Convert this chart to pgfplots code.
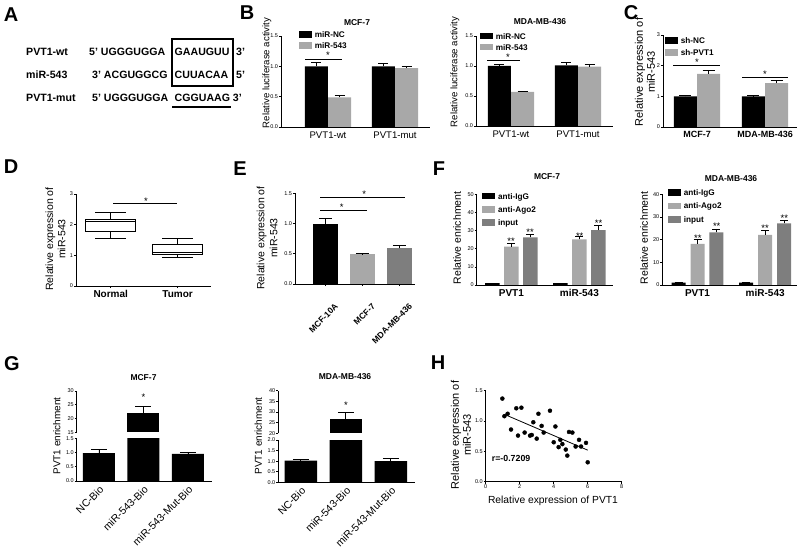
\documentclass[border=0pt]{standalone}
\usepackage{fontspec}
\setmainfont{Liberation Sans}
\usepackage{pgfplots}
\pgfplotsset{compat=1.18}
\usepgfplotslibrary{statistics}
\definecolor{lg}{HTML}{A8A8A8}
\definecolor{dg}{HTML}{7E7E7E}
\newcommand\fs[1]{\fontsize{#1}{#1}\selectfont}
\pgfplotsset{
 gp/.style={scale only axis, clip=false, anchor=south west,
   axis x line*=bottom, axis y line*=left,
   axis line style={line width=0.9pt,-},
   every outer x axis line/.append style={-},
   every outer y axis line/.append style={-},
   tick style={line width=0.7pt, black},
   tick align=outside, major tick length=2.2pt,
   yticklabel style={font=\fs{5.5}, inner sep=0.6pt},
   /pgf/number format/assume math mode=true,
   legend cell align=left},
 dec/.style={yticklabel style={/pgf/number format/fixed,/pgf/number format/fixed zerofill,/pgf/number format/precision=1}},
 bb/.style 2 args={ybar, bar shift=0pt, bar width=#1, fill=#2, draw=none,
   legend image code/.code={\fill[##1] (0pt,-3.3pt) rectangle (12.5pt,3.3pt);}},
 eb/.style={error bars/y dir=plus, error bars/y explicit,
   error bars/error bar style={line width=0.8pt, black},
   error bars/error mark options={rotate=90, mark size=#1, line width=0.8pt, black}},
 lgs/.style 2 args={legend style={at={#1}, anchor=north west, draw=none, fill=none,
   inner sep=0pt, font=\fs{8.2}\bfseries, row sep=#2, column sep=2.5pt,
   nodes={inner sep=0.6pt, text height=5.8pt, text depth=0pt}}},
}
\tikzset{star/.style={font=\fs{9.5}, inner sep=0pt, yshift=-2pt},
 ttl/.style={font=\fs{8.5}\bfseries},
 pl/.style={font=\fs{20}\bfseries, inner sep=0pt}}
\begin{document}
\begin{tikzpicture}[x=1pt,y=1pt]
\useasboundingbox (0,0) rectangle (800,549);

% ---------- A ----------
\node[pl] at (11,549-15) {A};
\begin{scope}[every node/.style={font=\fs{10.6}\bfseries, anchor=west, inner sep=0pt}]
\node at (26,549-52) {PVT1-wt};
\node at (26,549-75) {miR-543};
\node at (26,549-98) {PVT1-mut};
\node at (89,549-52) {5' UGGGUGGA};
\node at (92,549-75) {3' ACGUGGCG};
\node at (92,549-98) {5' UGGGUGGA};
\node at (174.5,549-52) {GAAUGUU};
\node at (174.5,549-75) {CUUACAA};
\node at (236,549-52) {3'};
\node at (236,549-75) {5'};
\node at (174.5,549-98) {CGGUAAG 3'};
\end{scope}
\draw[line width=1.3pt] (172,549-39) rectangle (233,549-86);
\draw[line width=1.3pt] (172,549-107) -- (231,549-107);

% ---------- B ----------
\node[pl] at (247,549-13) {B};
\begin{axis}[gp, at={(281pt,422pt)}, width=149pt, height=91pt,
  xmin=-0.701, xmax=1.522, ymin=0, ymax=1.5, ytick={0,0.5,1,1.5}, dec,
  xtick={0,1}, xticklabels={PVT1-wt,PVT1-mut}, xtick style={draw=none},
  xticklabel style={font=\fs{9.6}, inner sep=2pt},
  lgs={(0.121,1.06)}{4pt}]
\addplot[bb={0.343}{black}, eb=5pt] coordinates {(-0.172,1.0) +- (0,0.07) (0.828,1.0) +- (0,0.05)};
\addlegendentry{miR-NC}
\addplot[bb={0.343}{lg}, eb=5pt] coordinates {(0.172,0.49) +- (0,0.03) (1.172,0.97) +- (0,0.03)};
\addlegendentry{miR-543}
\end{axis}
\node[ttl] at (357,549-22.5) {MCF-7};
\node[rotate=90, font=\fs{9.6}] at (267,549-73) {Relative luciferase activity};
\draw[line width=0.9pt] (305,549-59.3) -- (341.7,549-59.3);
\node[star] at (328,549-53) {*};

\begin{axis}[gp, at={(476pt,423pt)}, width=137pt, height=90pt,
  xmin=-0.522, xmax=1.522, ymin=0, ymax=1.5, ytick={0,0.5,1,1.5}, dec,
  xtick={0,1}, xticklabels={PVT1-wt,PVT1-mut}, xtick style={draw=none},
  xticklabel style={font=\fs{9.6}, inner sep=2pt},
  lgs={(0.029,1.039)}{4pt}]
\addplot[bb={0.343}{black}, eb=5pt] coordinates {(-0.172,1.0) +- (0,0.03) (0.828,1.01) +- (0,0.05)};
\addlegendentry{miR-NC}
\addplot[bb={0.343}{lg}, eb=5pt] coordinates {(0.172,0.57) +- (0,0.01) (1.172,0.99) +- (0,0.04)};
\addlegendentry{miR-543}
\end{axis}
\node[ttl] at (540,549-21.7) {MDA-MB-436};
\node[rotate=90, font=\fs{9.6}] at (455,549-72) {Relative luciferase activity};
\draw[line width=0.9pt] (487.3,549-60) -- (520,549-60);
\node[star] at (508,549-55) {*};

% ---------- C ----------
\node[pl] at (631,549-13) {C};
\begin{axis}[gp, at={(663pt,422pt)}, width=134pt, height=92pt,
  xmin=-0.5, xmax=1.47, ymin=0, ymax=3, ytick={0,1,2,3},
  xtick={0,1}, xticklabels={MCF-7,MDA-MB-436}, xtick style={draw=none},
  xticklabel style={font=\fs{9}\bfseries, inner sep=2pt},
  lgs={(0.015,0.978)}{4.7pt}]
\addplot[bb={0.34}{black}, eb=6pt] coordinates {(-0.17,1.0) +- (0,0.03) (0.83,1.0) +- (0,0.02)};
\addlegendentry{sh-NC}
\addplot[bb={0.34}{lg}, eb=6pt] coordinates {(0.17,1.73) +- (0,0.1) (1.17,1.43) +- (0,0.08)};
\addlegendentry{sh-PVT1}
\end{axis}
\node[rotate=90, font=\fontsize{11}{12}\selectfont, align=center] at (645,549-72) {Relative expression of\\miR-543};
\draw[line width=0.9pt] (673,549-65) -- (720,549-65);
\draw[line width=0.9pt] (742,549-77) -- (788,549-77);
\node[star] at (697,549-60) {*};
\node[star] at (765,549-72) {*};

% ---------- D ----------
\node[pl] at (11,549-167) {D};
\begin{axis}[gp, at={(76pt,263pt)}, width=135pt, height=92pt,
  xmin=-0.52, xmax=1.5, ymin=0, ymax=3, ytick={0,1,2,3},
  boxplot/draw direction=y,
  xtick={0,1}, xticklabels={Normal,Tumor},
  xticklabel style={font=\fs{10}\bfseries, inner sep=2pt}]
\addplot[black, line width=1.1pt, boxplot prepared={draw position=0, lower whisker=1.55, lower quartile=1.79, median=2.1, upper quartile=2.18, upper whisker=2.4, box extend=0.75, whisker extend=0.46}] coordinates {};
\addplot[black, line width=1.1pt, boxplot prepared={draw position=1, lower whisker=0.92, lower quartile=1.03, median=1.1, upper quartile=1.35, upper whisker=1.55, box extend=0.75, whisker extend=0.46}] coordinates {};
\end{axis}
\node[rotate=90, font=\fontsize{10.5}{12.4}\selectfont, align=center] at (55.5,549-239) {Relative expression of\\miR-543};
\draw[line width=0.9pt] (113,549-203.3) -- (177,549-203.3);
\node[star] at (146,549-199) {*};

% ---------- E ----------
\node[pl] at (240,549-169) {E};
\begin{axis}[gp, at={(295pt,265pt)}, width=120pt, height=90.7pt,
  xmin=-0.82, xmax=2.42, ymin=0, ymax=1.5, ytick={0,0.5,1,1.5}, dec,
  xtick={0,1,2}, xticklabels={MCF-10A,MCF-7,MDA-MB-436},
  xticklabel style={font=\fs{8.5}\bfseries, xshift=9pt, yshift=-15pt, rotate=45, anchor=north east, inner sep=1pt}]
\addplot[bb={0.69}{black}, eb=6.5pt] coordinates {(0,1.0) +- (0,0.08)};
\addplot[bb={0.69}{lg}, eb=6.5pt] coordinates {(1,0.49) +- (0,0.01)};
\addplot[bb={0.69}{dg}, eb=6.5pt] coordinates {(2,0.59) +- (0,0.05)};
\end{axis}
\node[rotate=90, font=\fontsize{10.5}{13}\selectfont, align=center] at (267,549-238) {Relative expression of\\miR-543};
\draw[line width=0.9pt] (320,549-210) -- (366.7,549-210);
\draw[line width=0.9pt] (320,549-197.3) -- (405,549-197.3);
\node[star] at (341.7,549-205.5) {*};
\node[star] at (364.3,549-192.5) {*};

% ---------- F ----------
\node[pl] at (439,549-169) {F};
\begin{axis}[gp, at={(476.7pt,264pt)}, width=136pt, height=90.7pt,
  xmin=-0.51, xmax=1.49, ymin=0, ymax=50, ytick={0,10,20,30,40,50},
  xtick={0,1}, xticklabels={PVT1,miR-543}, xtick style={draw=none},
  xticklabel style={font=\fs{10}\bfseries, inner sep=2pt},
  lgs={(0.041,1.02)}{6.3pt}]
\addplot[bb={0.213}{black}, eb=4pt] coordinates {(-0.28,1.0) +- (0,0.05) (0.72,1.0) +- (0,0.05)};
\addlegendentry{anti-IgG}
\addplot[bb={0.213}{lg}, eb=4pt] coordinates {(0,21.1) +- (0,1.9) (1,25.2) +- (0,1.5)};
\addlegendentry{anti-Ago2}
\addplot[bb={0.213}{dg}, eb=4pt] coordinates {(0.28,26.3) +- (0,1.8) (1.28,30.3) +- (0,2.4)};
\addlegendentry{input}
\end{axis}
\node[ttl] at (547,549-176.7) {MCF-7};
\node[rotate=90, font=\fs{10.5}] at (457,549-238) {Relative enrichment};
\node[star] at (511,549-239.3) {**};
\node[star] at (530,549-230) {**};
\node[star] at (579.7,549-234) {**};
\node[star] at (598.5,549-221) {**};

\begin{axis}[gp, at={(662.3pt,264pt)}, width=134.7pt, height=90.7pt,
  xmin=-0.52, xmax=1.47, ymin=0, ymax=40, ytick={0,10,20,30,40},
  xtick={0,1}, xticklabels={PVT1,miR-543}, xtick style={draw=none},
  xticklabel style={font=\fs{10}\bfseries, inner sep=2pt},
  lgs={(0.042,1.058)}{6.3pt}]
\addplot[bb={0.207}{black}, eb=4pt] coordinates {(-0.28,1.0) +- (0,0.1) (0.72,1.0) +- (0,0.1)};
\addlegendentry{anti-IgG}
\addplot[bb={0.207}{lg}, eb=4pt] coordinates {(0,18.1) +- (0,2.2) (1,22.1) +- (0,1.9)};
\addlegendentry{anti-Ago2}
\addplot[bb={0.207}{dg}, eb=4pt] coordinates {(0.28,23.2) +- (0,1.5) (1.28,27.2) +- (0,1.2)};
\addlegendentry{input}
\end{axis}
\node[ttl] at (731,549-179) {MDA-MB-436};
\node[rotate=90, font=\fs{10.5}] at (644,549-238) {Relative enrichment};
\node[star] at (697.8,549-236) {**};
\node[star] at (716.7,549-224) {**};
\node[star] at (765,549-226.7) {**};
\node[star] at (784.3,549-216) {**};

% ---------- G ----------
\node[pl] at (12,549-364) {G};
\begin{axis}[gp, clip=true, clip marker paths=true, at={(76.7pt,68pt)}, width=134.8pt, height=42.7pt,
  xmin=-0.5, xmax=2.53, ymin=0, ymax=1.5, ytick={0,0.5,1,1.5}, dec,
  xtick={0,1,2}, xticklabels={NC-Bio,miR-543-Bio,miR-543-Mut-Bio}, xtick style={draw=none},
  xticklabel style={font=\fs{10.5}, rotate=45, anchor=north east, inner sep=1pt}]
\addplot[bb={0.72}{black}, eb=8pt] coordinates {(0,0.98) +- (0,0.13) (1,22.1) +- (0,2.3) (2,0.95) +- (0,0.07)};
\end{axis}
\begin{axis}[gp, clip=true, clip marker paths=true, at={(76.7pt,116.7pt)}, width=134.8pt, height=41.3pt,
  axis x line=none, xmin=-0.5, xmax=2.53, ymin=15, ymax=30, ytick={15,20,25,30}]
\addplot[bb={0.72}{black}, eb=8pt] coordinates {(1,22.1) +- (0,2.3)};
\end{axis}
\node[ttl] at (143.5,549-378) {MCF-7};
\node[rotate=90, font=\fs{10}] at (56.7,549-436) {PVT1 enrichment};
\node[star] at (143.5,549-395) {*};

\begin{axis}[gp, clip=true, clip marker paths=true, at={(278.3pt,66.7pt)}, width=136.4pt, height=42.3pt,
  xmin=-0.5, xmax=2.53, ymin=0, ymax=2, ytick={0,0.5,1,1.5,2}, dec,
  xtick={0,1,2}, xticklabels={NC-Bio,miR-543-Bio,miR-543-Mut-Bio}, xtick style={draw=none},
  xticklabel style={font=\fs{10.5}, rotate=45, anchor=north east, inner sep=1pt}]
\addplot[bb={0.72}{black}, eb=8pt] coordinates {(0,1.02) +- (0,0.07) (1,26.6) +- (0,3.1) (2,1.0) +- (0,0.13)};
\end{axis}
\begin{axis}[gp, clip=true, clip marker paths=true, at={(278.3pt,115.7pt)}, width=136.4pt, height=42.6pt,
  axis x line=none, xmin=-0.5, xmax=2.53, ymin=20, ymax=40, ytick={20,25,30,35,40}]
\addplot[bb={0.72}{black}, eb=8pt] coordinates {(1,26.6) +- (0,3.1)};
\end{axis}
\node[ttl] at (345,549-377) {MDA-MB-436};
\node[rotate=90, font=\fs{10}] at (258.3,549-436) {PVT1 enrichment};
\node[star] at (346,549-403) {*};

% ---------- H ----------
\node[pl] at (438,549-363) {H};
\begin{axis}[gp, at={(485.7pt,67.3pt)}, width=136pt, height=91pt,
  xmin=0, xmax=8, ymin=0, ymax=1.5, xtick={0,2,4,6,8}, ytick={0,0.5,1,1.5}, dec,
  xticklabel style={font=\fs{5.5}, inner sep=1pt}]
\addplot[only marks, mark=*, mark size=2pt, black] coordinates {
(0.98,1.37) (1.10,1.08) (1.29,1.12) (1.49,0.86) (1.80,1.21) (1.90,0.76)
(2.10,1.22) (2.29,0.81) (2.61,0.76) (2.71,0.77) (2.80,0.98) (3.00,0.71)
(3.10,1.12) (3.29,0.92) (3.41,0.81) (3.78,1.17) (4.00,0.65) (4.10,0.91)
(4.29,0.57) (4.39,0.69) (4.51,0.62) (4.71,0.53) (4.80,0.43) (4.90,0.82)
(5.10,0.81) (5.29,0.58) (5.49,0.69) (5.61,0.58) (5.90,0.64) (6.00,0.32)};
\addplot[black, line width=0.8pt] coordinates {(1.1,1.11) (6.0,0.52)};
\end{axis}
\node[rotate=90, font=\fontsize{11}{12}\selectfont, align=center] at (461,549-435) {Relative expression of\\miR-543};
\node[font=\fs{10.3}] at (553,549-500.7) {Relative expression of PVT1};
\node[font=\fs{8.8}\bfseries, anchor=west, inner sep=0pt] at (491.7,549-458.3) {r=-0.7209};

\end{tikzpicture}
\end{document}
